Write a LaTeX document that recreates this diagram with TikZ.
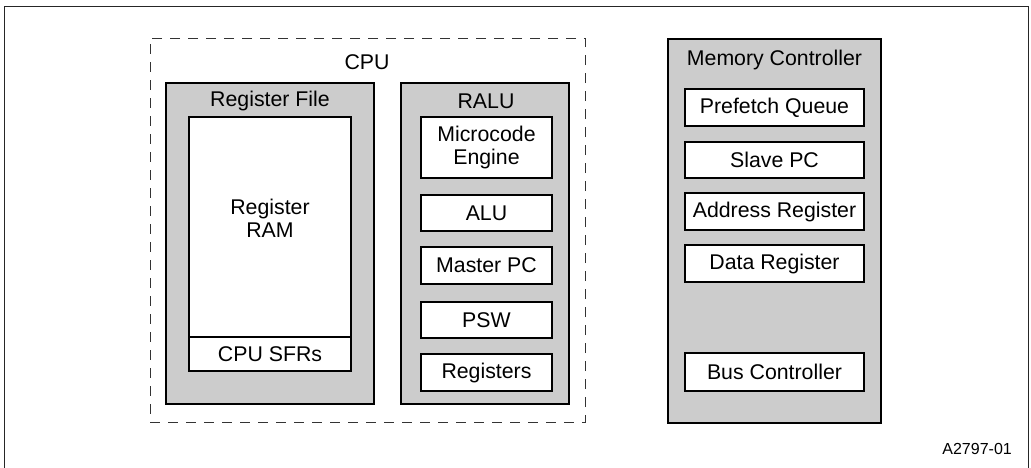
\documentclass[tikz,border=0pt]{standalone}
\usepackage{fontspec}
\setmainfont{Liberation Sans}
\definecolor{boxgray}{HTML}{CCCCCC}
\begin{document}
\begin{tikzpicture}[x=1pt,y=-1pt,
  graybox/.style={draw=black,line width=2.2pt,fill=boxgray,inner sep=0pt,minimum width=#1},
  whitebox/.style={draw=black,line width=2.2pt,fill=white,inner sep=0pt,align=center,font=\fontsize{21.3}{23}\selectfont,minimum width=#1},
  lbl/.style={inner sep=0pt,font=\fontsize{21.3}{23}\selectfont,align=center},
  cpuframe/.style={draw=black!80,line width=1pt,dash pattern=on 10pt off 8pt,inner sep=0pt}]
\useasboundingbox (0,0) rectangle (1031,467);
% outer frame
\coordinate (fbl) at (4,470);
\coordinate (ftl) at (4,6);
\coordinate (ftr) at (1028,6);
\coordinate (fbr) at (1028,470);
\draw[line width=1pt,black!85] (fbl) -- (ftl) -- (ftr) -- (fbr);
% CPU dashed frame
\node[cpuframe,minimum width=435,minimum height=384] (cpu) at (367.5,230) {};
\node[lbl] (cpul) at (367,62) {CPU};
% Register File
\node[graybox=208,minimum height=321] (rf) at (270,243.5) {};
\node[lbl] (rfl) at (270,101) {Register File};
\node[whitebox=162,minimum height=220] (ram) at (270,227) {};
\node[lbl] (raml) at (270,218) {Register\\RAM};
\node[whitebox=162,minimum height=34] (sfr) at (270,354) {CPU SFRs};
% RALU
\node[graybox=168,minimum height=321] (ralu) at (485,243.5) {};
\node[lbl] (ralul) at (486,101) {RALU};
\node[whitebox=131,minimum height=61] (mce) at (486.5,147.5) {Microcode\\Engine};
\node[whitebox=131,minimum height=36] (alu) at (486.5,213) {ALU};
\node[whitebox=131,minimum height=37] (mpc) at (486.5,265.5) {Master PC};
\node[whitebox=131,minimum height=36] (psw) at (486.5,320) {PSW};
\node[whitebox=131,minimum height=37] (regs) at (486.5,372.5) {Registers};
% Memory Controller
\node[graybox=213,minimum height=384] (mc) at (774.5,231) {};
\node[lbl] (mcl) at (774.5,60) {Memory Controller};
\node[whitebox=179,minimum height=37] (pq) at (774.5,107.5) {Prefetch Queue};
\node[whitebox=179,minimum height=36] (spc) at (774.5,160) {Slave PC};
\node[whitebox=179,minimum height=37] (ar) at (774.5,211.5) {Address Register};
\node[whitebox=179,minimum height=37] (dr) at (774.5,263.5) {Data Register};
\node[whitebox=179,minimum height=38] (bc) at (774.5,372) {Bus Controller};
% figure id
\node[lbl,anchor=east,font=\fontsize{16}{18}\selectfont] (fid) at (1012,449) {A2797-01};
\end{tikzpicture}
\end{document}
